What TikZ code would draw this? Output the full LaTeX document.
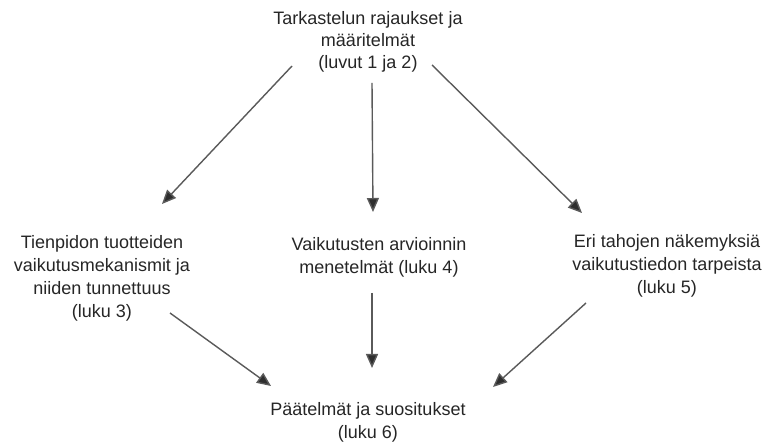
\documentclass[tikz,border=0pt]{standalone}
\usepackage{fontspec}
\setmainfont{Liberation Sans}
\usetikzlibrary{arrows.meta}
\definecolor{txt}{HTML}{262626}
\definecolor{lne}{HTML}{5A5A5A}
\definecolor{tip}{HTML}{2E2E2E}
\begin{document}
\begin{tikzpicture}[x=1pt,y=-1pt,
  lbl/.style={align=center,inner sep=0pt,text=txt,font=\fontsize{18}{23}\selectfont},
  arr/.style={draw=lne,line width=1.4pt,-{Triangle[length=14pt,width=12pt,fill=tip]}}]
\useasboundingbox[fill=white] (0,0) rectangle (771,443);

\node[lbl,font=\fontsize{18}{21.7}\selectfont] (top) at (368,42) {Tarkastelun rajaukset ja\\määritelmät\\(luvut 1 ja 2)};
\node[lbl] (left) at (102,278) {Tienpidon tuotteiden\\vaikutusmekanismit ja\\niiden tunnettuus\\(luku 3)};
\node[lbl] (mid) at (379,257) {Vaikutusten arvioinnin\\menetelmät (luku 4)};
\node[lbl] (right) at (667,266) {Eri tahojen näkemyksiä\\vaikutustiedon tarpeista\\(luku 5)};
\node[lbl] (bot) at (368,422.5) {Päätelmät ja suositukset\\(luku 6)};

% from the scope definition down to the three studies
\draw[arr] ([shift={(-76,24)}]top.center) -- ([shift={(60,-74)}]left.center);
\draw[arr] ([shift={(4,41)}]top.center) -- ([shift={(-6,-45)}]mid.center);
\draw[arr] ([shift={(64,23)}]top.center) -- ([shift={(-85,-53)}]right.center);

% from the studies to the conclusions
\draw[arr] ([shift={(68,35)}]left.center) -- ([shift={(-97,-36.5)}]bot.center);
\draw[arr] ([shift={(-7,36)}]mid.center) -- ([shift={(4,-54.5)}]bot.center);
\draw[arr] ([shift={(-81,37)}]right.center) -- ([shift={(125,-35.5)}]bot.center);
\end{tikzpicture}
\end{document}
